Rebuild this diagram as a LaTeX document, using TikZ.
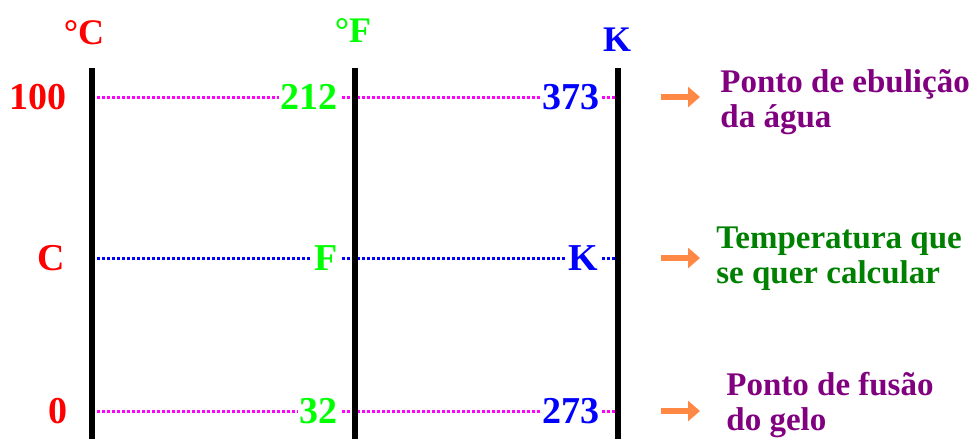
\documentclass[tikz,border=0pt]{standalone}
\usepackage{fontspec}
\setmainfont{Liberation Serif}
\usetikzlibrary{positioning,arrows.meta}
\definecolor{scC}{HTML}{FF0000}
\definecolor{scF}{HTML}{00FF00}
\definecolor{scK}{HTML}{0000FF}
\definecolor{fixpt}{HTML}{FF00FF}
\definecolor{pointer}{HTML}{FF8844}
\definecolor{notepurple}{HTML}{800080}
\definecolor{notegreen}{HTML}{008000}
\tikzset{
  unit/.style={font=\fontsize{18}{22}\selectfont\bfseries, inner sep=0pt},
  val/.style={font=\fontsize{19}{22}\selectfont\bfseries, fill=white, inner sep=1pt, anchor=east},
  bar/.style={line width=3pt, black},
  fixline/.style={fixpt, line width=1.5pt, dash pattern=on 1.5pt off 1pt},
  unkline/.style={scK, line width=1.5pt, dash pattern=on 1.5pt off 1pt},
  ptr/.style={pointer, line width=3pt, -{Triangle[length=6pt,width=10pt]}},
  note/.style={font=\fontsize{16.5}{17.5}\selectfont\bfseries, anchor=west, align=left, inner sep=0pt},
}
\begin{document}
\begin{tikzpicture}[x=0.5pt, y=-0.5pt]
\useasboundingbox (0,0) rectangle (979,439);
% scale names
\node[unit, text=scC] (tC) at (84,33) {°C};
\node[unit, text=scF] (tF) at (353,31) {°F};
\node[unit, text=scK] (tK) at (617,40) {K};
% bar ends
\coordinate (c0) at (92,68);  \coordinate (c1) at (92,439);
\coordinate (f0) at (355,68); \coordinate (f1) at (355,439);
\coordinate (k0) at (618,68); \coordinate (k1) at (618,439);
% level lines
\draw[fixline] (92,97) -- (618,97);
\draw[unkline] (92,258) -- (618,258);
\draw[fixline] (92,411) -- (618,411);
% the three thermometers
\draw[bar] (c0) -- (c1);
\draw[bar] (f0) -- (f1);
\draw[bar] (k0) -- (k1);
% readings
\node[val, text=scC] (c100) at (69,97) {100};
\node[val, text=scC] (cx) at (67,258) {C};
\node[val, text=scC] (c0v) at (70,411) {0};
\node[val, text=scF] (f212) at (340,97) {212};
\node[val, text=scF] (fx) at (340,258) {F};
\node[val, text=scF] (f32) at (340,411) {32};
\node[val, text=scK] (k373) at (602,97) {373};
\node[val, text=scK] (kx) at (600,258) {K};
\node[val, text=scK] (k273) at (602,411) {273};
% notes
\node[note, text=notepurple] (boil) at (720,102) {Ponto de ebulição\\da água};
\node[note, text=notegreen] (calc) at (716,259) {Temperatura que\\se quer calcular};
\node[note, text=notepurple] (melt) at (726,405) {Ponto de fusão\\do gelo};
\coordinate (p1) at (661,97);  \coordinate (q1) at (700,97);
\coordinate (p2) at (661,258); \coordinate (q2) at (700,258);
\coordinate (p3) at (661,411); \coordinate (q3) at (700,411);
\draw[ptr] (p1) -- (q1);
\draw[ptr] (p2) -- (q2);
\draw[ptr] (p3) -- (q3);
\end{tikzpicture}
\end{document}
